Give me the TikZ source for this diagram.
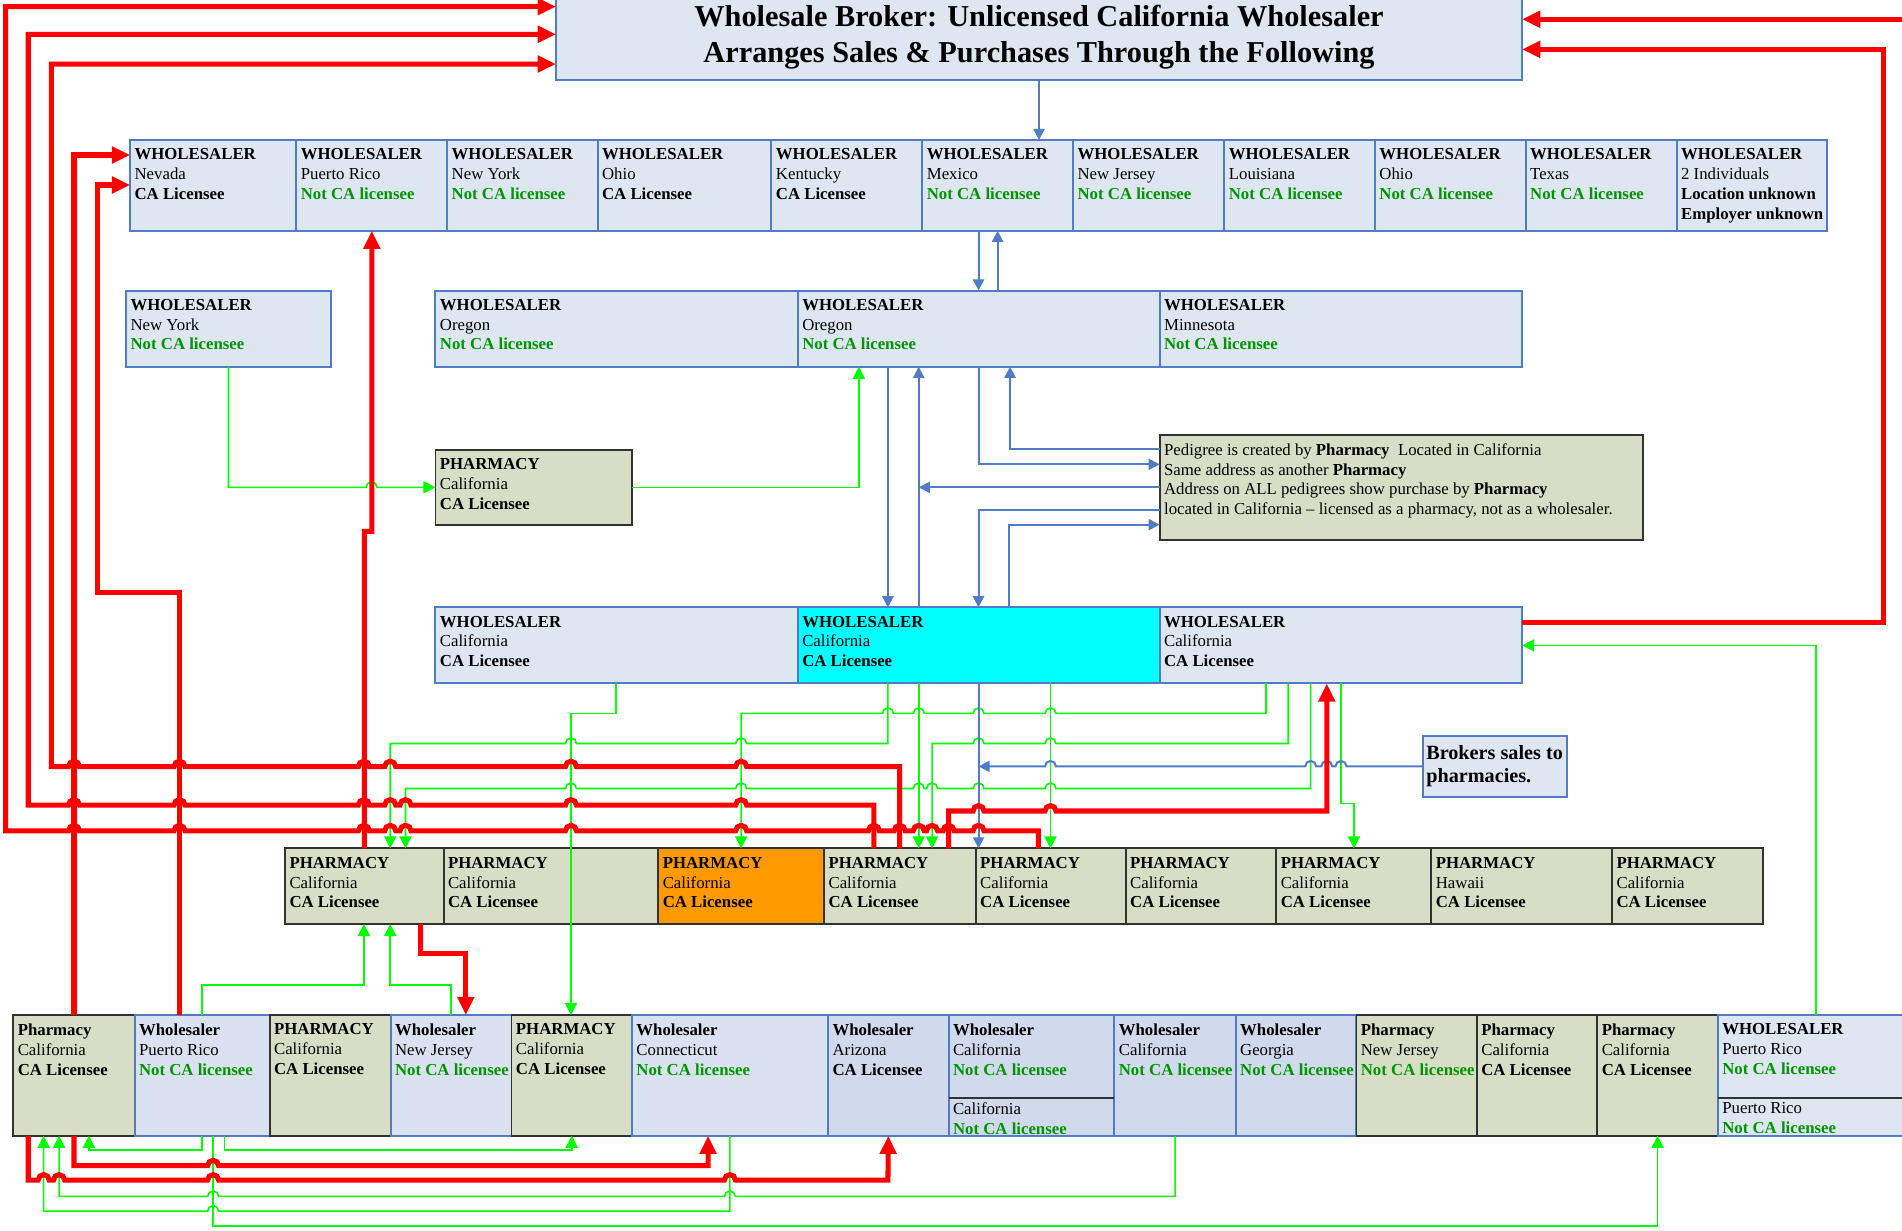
\documentclass[tikz,border=0pt]{standalone}
\usepackage{fontspec}
\setmainfont{Liberation Serif}
\usetikzlibrary{arrows.meta}

\definecolor{wfill}{RGB}{222,230,242}
\definecolor{wfillb}{RGB}{218,225,240}
\definecolor{wfilld}{RGB}{208,218,236}
\definecolor{wline}{RGB}{79,124,196}
\definecolor{pfill}{RGB}{216,221,198}
\definecolor{pline}{RGB}{50,50,50}
\definecolor{lic}{RGB}{0,150,0}
\definecolor{flow}{RGB}{0,255,0}
\definecolor{orangecell}{RGB}{255,153,0}
\definecolor{cyancell}{RGB}{0,255,255}

\newcommand{\pxu}{0.6pt}   % one layout pixel
\newcommand{\hoprad}{2.7pt} % radius of a line jump
\newcommand{\hd}[1]{\textbf{#1}}
\newcommand{\islic}{\textbf{CA Licensee}}
\newcommand{\notlic}{\textcolor{lic}{\textbf{Not CA licensee}}}
% line jumps on horizontal runs (going left / going right)
\newcommand{\hopl}[2]{-- ([xshift=\hoprad]#1,#2) arc[start angle=0,end angle=180,radius=\hoprad]}
\newcommand{\hopr}[2]{-- ([xshift=-\hoprad]#1,#2) arc[start angle=180,end angle=0,radius=\hoprad]}
% a box from (x1,y1) to (x2,y2) with its text in the top left corner
\newcommand{\cell}[7][wbox]{%
  \node[#1, anchor=north west, minimum width={(#5-#3)*\pxu}, minimum height={(#6-#4)*\pxu}] (#2) at (#3,#4) {};
  \node[celltext] (#2t) at ([xshift=2pt,yshift=-4.1pt]#2.north west) {#7};}

\tikzset{
  wbox/.style={draw=wline, fill=wfill, line width=1pt, inner sep=0pt, outer sep=0pt}, % wholesaler
  wboxb/.style={wbox, fill=wfillb},
  wboxd/.style={wbox, fill=wfilld},
  cbox/.style={wbox, fill=cyancell},
  pbox/.style={draw=pline, fill=pfill, line width=0.9pt, inner sep=0pt, outer sep=0pt}, % pharmacy
  obox/.style={pbox, fill=orangecell},
  celltext/.style={anchor=north west, align=left, inner sep=0pt, font=\fontsize{8.3}{9.8}\selectfont},
  flowg/.style={draw=flow, line width=0.8pt, -{Triangle[length=6pt,width=6pt]}},  % sales
  flowb/.style={draw=wline, line width=1pt, -{Triangle[length=5.5pt,width=5.5pt]}}, % pedigree
  flowr/.style={draw=red, line width=2.5pt, -{Triangle[length=9pt,width=8pt]}},   % money
}

\begin{document}
\begin{tikzpicture}[x=0.6pt, y=-0.6pt]
  \useasboundingbox (0,0) rectangle (1568,1014.1);
  \clip (0,0) rectangle (1568,1014.1);

  % broker
  \node[wbox, minimum width={(1254.8-458.3)*\pxu}, minimum height={71.2*\pxu},
        font=\fontsize{15}{17.7}\selectfont\bfseries, align=center] (title) at (856.55,30.6)
        {Wholesale Broker: Unlicensed California Wholesaler\\Arranges Sales \& Purchases Through the Following};

  % first row of wholesalers
  \foreach \k/\xa/\xb/\st/\lc in {1/107.3/244.3/Nevada/\islic, 2/244.3/368.7/Puerto Rico/\notlic,
      3/368.7/492.7/New York/\notlic, 4/492.7/636/Ohio/\islic, 5/636/760.4/Kentucky/\islic,
      6/760.4/884.7/Mexico/\notlic, 7/884.7/1009.4/New Jersey/\notlic, 8/1009.4/1133.5/Louisiana/\notlic,
      9/1133.5/1257.8/Ohio/\notlic, 10/1257.8/1382.2/Texas/\notlic}
    {\cell{w\k}{\xa}{115.4}{\xb}{190.2}{\hd{WHOLESALER}\\\st\\\lc}}
  \cell{w11}{1382.2}{115.4}{1506.5}{190.2}{\hd{WHOLESALER}\\2 Individuals\\\textbf{Location unknown}\\\textbf{Employer unknown}}

  % second row
  \cell{ny}{104}{239.5}{272.7}{302.3}{\hd{WHOLESALER}\\New York\\\notlic}
  \cell{o1}{359}{239.5}{657.7}{302.3}{\hd{WHOLESALER}\\Oregon\\\notlic}
  \cell{o2}{657.7}{239.5}{956}{302.3}{\hd{WHOLESALER}\\Oregon\\\notlic}
  \cell{o3}{956}{239.5}{1254.8}{302.3}{\hd{WHOLESALER}\\Minnesota\\\notlic}

  \cell[pbox]{ph0}{359}{371}{521}{432.5}{\hd{PHARMACY}\\California\\\islic}
  \cell[pbox]{ped}{956}{358.4}{1354.5}{445.2}{Pedigree is created by \textbf{Pharmacy}\ \ Located in California\\
    Same address as another \textbf{Pharmacy}\\Address on ALL pedigrees show purchase by \textbf{Pharmacy}\\
    located in California -- licensed as a pharmacy, not as a wholesaler.}

  % California wholesalers
  \cell{c1}{359}{500.7}{657.7}{563.4}{\hd{WHOLESALER}\\California\\\islic}
  \cell[cbox]{c2}{657.7}{500.7}{956}{563.4}{\hd{WHOLESALER}\\California\\\islic}
  \cell{c3}{956}{500.7}{1254.8}{563.4}{\hd{WHOLESALER}\\California\\\islic}

  \node[wbox, anchor=north west, minimum width={119.4*\pxu}, minimum height={50*\pxu}] (brok) at (1172.8,606.8) {};
  \node[celltext, font=\fontsize{10}{11.6}\selectfont\bfseries] (brokt) at ([xshift=1.6pt,yshift=-4.4pt]brok.north west) {Brokers sales to\\pharmacies.};

  % pharmacies
  \foreach \k/\xa/\xb/\st in {1/235/365.7/California, 2/365.7/542.7/California, 4/679.4/804.4/California,
      5/804.4/928/California, 6/928/1052.2/California, 7/1052.2/1180/California, 8/1180/1329/Hawaii,
      9/1329/1453.5/California}
    {\cell[pbox]{p\k}{\xa}{699.4}{\xb}{761.8}{\hd{PHARMACY}\\\st\\\islic}}
  \cell[obox]{p3}{542.7}{699.4}{679.4}{761.8}{\hd{PHARMACY}\\California\\\islic}

  % bottom row
  \cell[pbox]{b1}{11}{836.8}{111}{936.3}{\hd{Pharmacy}\\California\\\islic}
  \cell[wboxb]{b2}{111}{836.8}{222.3}{936.3}{\hd{Wholesaler}\\Puerto Rico\\\notlic}
  \cell[pbox]{b3}{222.3}{836.8}{322}{936.3}{\hd{PHARMACY}\\California\\\islic}
  \cell[wboxb]{b4}{322}{836.8}{421.7}{936.3}{\hd{Wholesaler}\\New Jersey\\\notlic}
  \cell[pbox]{b5}{421.7}{836.8}{521}{936.3}{\hd{PHARMACY}\\California\\\islic}
  \cell[wboxb]{b6}{521}{836.8}{682.7}{936.3}{\hd{Wholesaler}\\Connecticut\\\notlic}
  \cell[wboxd]{b7}{682.7}{836.8}{782}{936.3}{\hd{Wholesaler}\\Arizona\\\islic}
  \cell[wboxd]{b8}{782}{836.8}{918.7}{936.3}{\hd{Wholesaler}\\California\\\notlic}
  \cell[wboxd]{b9}{918.7}{836.8}{1018.7}{936.3}{\hd{Wholesaler}\\California\\\notlic}
  \cell[wboxd]{b10}{1018.7}{836.8}{1118.2}{936.3}{\hd{Wholesaler}\\Georgia\\\notlic}
  \cell[pbox]{b11}{1118.2}{836.8}{1217.5}{936.3}{\hd{Pharmacy}\\New Jersey\\\notlic}
  \cell[pbox]{b12}{1217.5}{836.8}{1316.8}{936.3}{\hd{Pharmacy}\\California\\\islic}
  \cell[pbox]{b13}{1316.8}{836.8}{1416.2}{936.3}{\hd{Pharmacy}\\California\\\islic}
  \cell{b14}{1416.2}{836.8}{1600}{936.3}{\hd{WHOLESALER}\\Puerto Rico\\\notlic}
  \draw[pline, line width=0.9pt] (b8.west |- 0,905.5) -- (b8.east |- 0,905.5);
  \node[celltext] (b8u) at ([xshift=2pt,yshift=-1.8pt]b8.north west |- 0,905.5) {California\\\notlic};
  \draw[pline, line width=0.9pt] (b14.west |- 0,905.5) -- (b14.east |- 0,905.5);
  \node[celltext] (b14u) at ([xshift=2pt,yshift=-1.8pt]b14.north west |- 0,905.5) {Puerto Rico\\\notlic};

  % sales (green)
  \draw[flowg] (ny.south) -- (ny.south |- ph0.west) \foreach \h in {306.3} {\hopr{\h}{401.75}} -- (ph0.west);
  \draw[flowg] (ph0.east) -| (o2.south -| 708,0);
  \draw[flowg] (c1.south -| 508,0) -- (508,588.1) -- (470.7,588.1) -- (b5.north -| 470.7,0);
  \draw[flowg] (c2.south -| 732,0) -- (732,612.9) \foreach \h in {611,470.7} {\hopl{\h}{612.9}} -- (321.7,612.9) -- (p1.north -| 321.7,0);
  \draw[flowg] (c2.south -| 757.4,0) -- (p4.north -| 757.4,0);
  \draw[flowg] (c2.south -| 866,0) -- (p5.north -| 866,0);
  \draw[flowg] (c3.south -| 1043.7,0) -- (1043.7,588.1) \foreach \h in {866,806.7,757.4,732} {\hopl{\h}{588.1}} -- (611,588.1) -- (p3.north -| 611,0);
  \draw[flowg] (c3.south -| 1062,0) -- (1062,612.9) \foreach \h in {866,806.7} {\hopl{\h}{612.9}} -- (768.4,612.9) -- (p4.north -| 768.4,0);
  \draw[flowg] (c3.south -| 1080.5,0) -- (1080.5,650) \foreach \h in {866,806.7,768.4,757.4,611,470.7} {\hopl{\h}{650}} -- (334.3,650) -- (p1.north -| 334.3,0);
  \draw[flowg] (c3.south -| 1105.5,0) -- (1105.5,662.3) -- (1116.2,662.3) -- (p7.north -| 1116.2,0);
  \draw[flowg] (b14.north -| 1497,0) |- (c3.east);
  \draw[flowg] (b2.north) -- (166.65,812) -| (p1.south -| 300,0);
  \draw[flowg] (b4.north) -- (371.85,812) -| (p1.south -| 321.7,0);
  \draw[flowg] (b2.south) -- (166.65,948) -| (b1.south -| 73.3,0);
  \draw[flowg] (b2.south -| 185,0) -- (185,948) -| (b5.south);
  \draw[flowg] (b2.south -| 175.7,0) -- (175.7,1010.8) -| (b13.south);
  \draw[flowg] (b6.south -| 601.7,0) -- (601.7,998.4) \foreach \h in {175.7} {\hopl{\h}{998.4}} -- (36,998.4) -- (b1.south -| 36,0);
  \draw[flowg] (b9.south) -- (968.7,986.3) \foreach \h in {601.7,175.7} {\hopl{\h}{986.3}} -- (48.7,986.3) -- (b1.south -| 48.7,0);

  % pedigrees (blue)
  \draw[flowb] (title.south) -- (title.south |- w6.north);
  \draw[flowb] (w6.south -| 806.7,0) -- (o2.north -| 806.7,0);
  \draw[flowb] (o2.north -| 822.4,0) -- (w6.south -| 822.4,0);
  \draw[flowb] (o2.south -| 732,0) -- (c2.north -| 732,0);
  \draw[flowb] (c2.north -| 757.4,0) -- (o2.south -| 757.4,0);
  \draw[flowb] (ped.west) -- (ped.west -| 757.4,0);
  \draw[flowb] (o2.south -| 806.7,0) |- (ped.west |- 0,382.8);
  \draw[flowb] (ped.west |- 0,370.5) -| (o2.south -| 832.7,0);
  \draw[flowb] (ped.west |- 0,420.2) -| (c2.north -| 806.7,0);
  \draw[flowb] (c2.north -| 831.7,0) |- (ped.west |- 0,432.5);
  \draw[flowb] (brok.west) \foreach \h in {1105.5,1093.8,1080.5,866} {\hopl{\h}{631.8}} -- (brok.west -| 806.7,0);
  \draw[flowb] (c2.south -| 806.7,0) -- (p5.north -| 806.7,0);

  % payments (red)
  \draw[flowr] (p4.north -| 741.7,0) -- (741.7,632) \foreach \h in {611,470.7,321.7,300,148,61} {\hopl{\h}{632}}
    -- (42.3,632) -- (42.3,52.8) -- (title.west |- 0,52.8);
  \draw[flowr] (p4.north -| 720.4,0) -- (720.4,663.7) \foreach \h in {611,470.7,334.3,321.7,300,148,61} {\hopl{\h}{663.7}}
    -- (23.3,663.7) -- (23.3,28.3) -- (title.west |- 0,28.3);
  \draw[flowr] (p5.north -| 856,0) -- (856,684.9)
    \foreach \h in {806.7,782,768.4,757.4,741.7,720.4,611,470.7,334.3,321.7,300,148,61} {\hopl{\h}{684.9}}
    -- (4.7,684.9) -- (4.7,5.5) -- (title.west |- 0,5.5);
  \draw[flowr] (b1.north) |- (w1.west |- 0,127.8);
  \draw[flowr] (b2.north -| 148,0) -- (148,488.6) -- (80,488.6) |- (w1.west |- 0,152.5);
  \draw[flowr] (p1.north) -- (300.35,438) -- (306.5,438) -- (w2.south);
  \draw[flowr] (p4.north -| 782,0) -- (782,668.6) \foreach \h in {806.7,866} {\hopr{\h}{668.6}} -- (1093.8,668.6) -- (c3.south -| 1093.8,0);
  \draw[flowr] (c3.east |- 0,513) -- (1553,513) -- (1553,40.7) -- (title.east |- 0,40.7);
  \coordinate (rim) at (1575,15.9);
  \draw[flowr] (rim) -- (title.east |- rim);
  \draw[flowr] (p1.south -| 346.7,0) -- (346.7,786) -| (b4.north -| 384,0);
  \draw[flowr] (b1.south) -- (61,961) \foreach \h in {175.7} {\hopr{\h}{961}} -- (583.7,961) -- (b6.south -| 583.7,0);
  \draw[flowr] (b1.south -| 23.3,0) -- (23.3,972.8) \foreach \h in {36,48.7,175.7,601.7} {\hopr{\h}{972.8}} -- (732,972.8) -- (b7.south);
\end{tikzpicture}
\end{document}
